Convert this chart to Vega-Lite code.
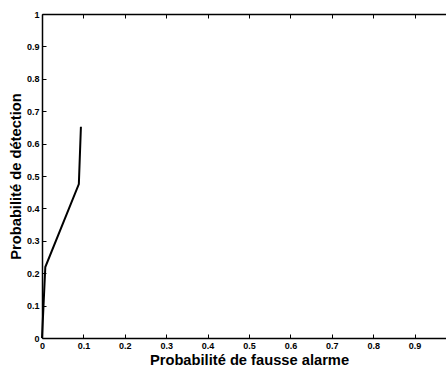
{
  "$schema": "https://vega.github.io/schema/vega-lite/v6.json",
  "width": 414,
  "height": 324,
  "autosize": {"type": "none"},
  "padding": {"left": 42, "top": 14, "right": 0, "bottom": 31},
  "background": "white",
  "config": {
    "view": {"stroke": null},
    "axis": {
      "labelFont": "Liberation Sans",
      "labelFontSize": 9,
      "labelFontWeight": "bold",
      "labelColor": "black",
      "titleFont": "Liberation Sans",
      "titleFontSize": 14.7,
      "titleFontWeight": "bold",
      "titleColor": "black",
      "domainColor": "black",
      "domainWidth": 1.5,
      "tickColor": "black",
      "tickWidth": 1,
      "tickSize": -4,
      "grid": false,
      "labelPadding": 7,
      "format": "~g"
    }
  },
  "data": {
    "values": [
      {"pfa": 0, "pd": 0},
      {"pfa": 0.008, "pd": 0.219},
      {"pfa": 0.089, "pd": 0.475},
      {"pfa": 0.094, "pd": 0.652}
    ]
  },
  "layer": [
    {
      "mark": {"type": "line", "color": "black", "strokeWidth": 2},
      "encoding": {
        "x": {
          "field": "pfa", "type": "quantitative",
          "scale": {"domain": [0, 1], "nice": false, "zero": false},
          "axis": {"orient": "bottom", "values": [0, 0.1, 0.2, 0.3, 0.4, 0.5, 0.6, 0.7, 0.8, 0.9], "title": "Probabilité de fausse alarme", "titlePadding": 2, "labelFlush": false}
        },
        "y": {
          "field": "pd", "type": "quantitative",
          "scale": {"domain": [0, 1], "nice": false, "zero": false},
          "axis": {"orient": "left", "values": [0, 0.1, 0.2, 0.3, 0.4, 0.5, 0.6, 0.7, 0.8, 0.9, 1], "title": "Probabilité de détection", "titlePadding": 3, "labelFlush": false}
        }
      }
    },
    {
      "mark": {"type": "line", "opacity": 0},
      "encoding": {
        "x": {
          "field": "pfa", "type": "quantitative",
          "scale": {"domain": [0, 1], "nice": false, "zero": false},
          "axis": {"orient": "top", "values": [0, 0.1, 0.2, 0.3, 0.4, 0.5, 0.6, 0.7, 0.8, 0.9, 1], "labels": false, "title": null}
        },
        "y": {
          "field": "pd", "type": "quantitative",
          "scale": {"domain": [0, 1], "nice": false, "zero": false},
          "axis": {"orient": "right", "values": [0, 0.1, 0.2, 0.3, 0.4, 0.5, 0.6, 0.7, 0.8, 0.9, 1], "labels": false, "title": null}
        }
      }
    }
  ],
  "resolve": {"axis": {"x": "independent", "y": "independent"}}
}
